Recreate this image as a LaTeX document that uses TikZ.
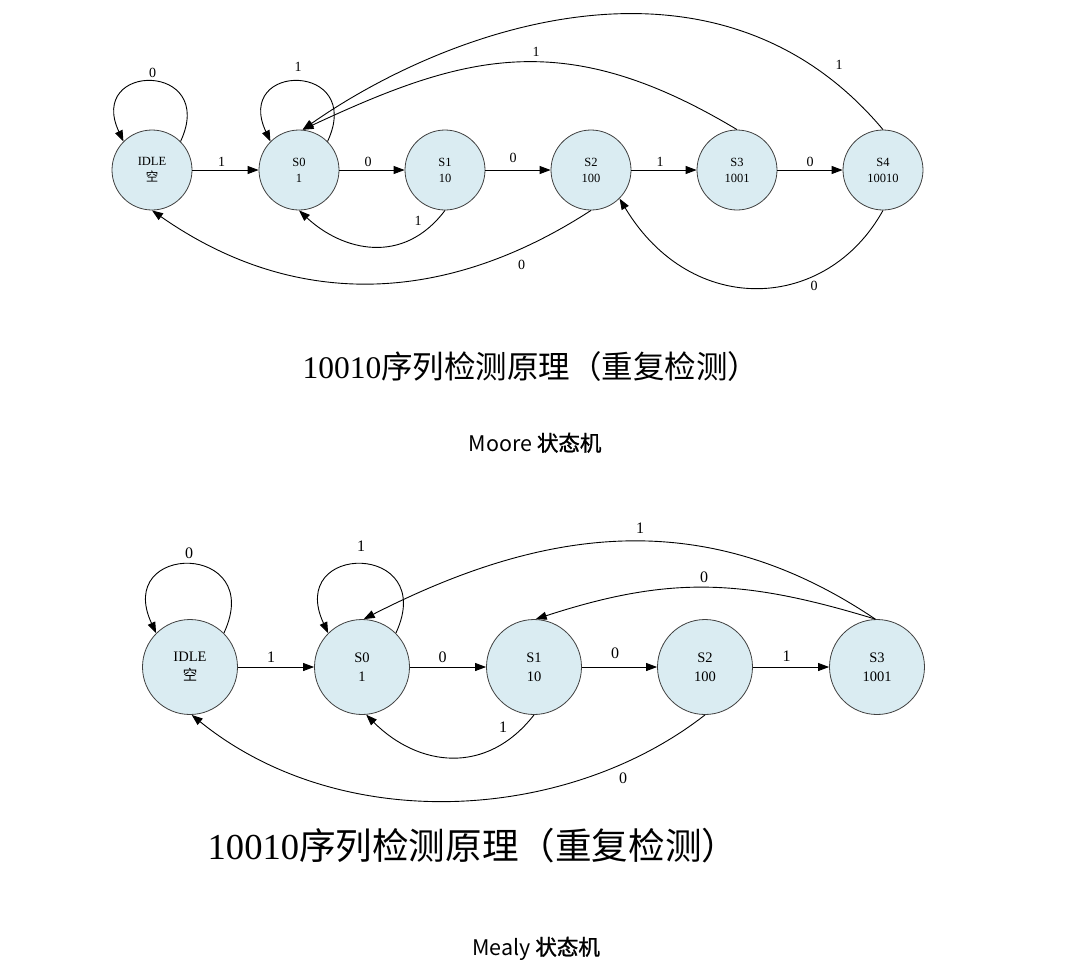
\documentclass[tikz,border=0pt]{standalone}
\usepackage{fontspec}
\setmainfont{Liberation Serif}
\newfontfamily\cjk{Noto Sans CJK SC}
\newfontfamily\cjkb[FakeBold=1.2]{Noto Sans CJK SC}
\usetikzlibrary{arrows.meta}
\definecolor{nodefill}{RGB}{218,236,242}
\definecolor{nodeline}{RGB}{64,64,64}
\begin{document}
\begin{tikzpicture}[x=1pt,y=1pt,
  stA/.style={circle, draw=nodeline, fill=nodefill, line width=0.8pt, minimum size=80pt, inner sep=0pt, align=center, font=\fontsize{12.5}{16}\selectfont},
  stB/.style={stA, minimum size=95pt, font=\fontsize{14.5}{19}\selectfont},
  arr/.style={draw=black, line width=0.9pt, -{Triangle[length=11pt,width=8pt]}},
  lblA/.style={inner sep=0pt, font=\fontsize{14}{15}\selectfont},
  lblB/.style={inner sep=0pt, font=\fontsize{16}{17}\selectfont},
  ttl/.style={inner sep=0pt, anchor=base},
]
\useasboundingbox[fill=white] (0,0) rectangle (1092,-970);

% ---------------- Moore ----------------
\node[stA] (idle) at (152,-170) {IDLE\\{\cjk 空}};
\node[stA] (s0) at (299,-170) {S0\\1};
\node[stA] (s1) at (445,-170) {S1\\10};
\node[stA] (s2) at (591,-170) {S2\\100};
\node[stA] (s3) at (737,-170) {S3\\1001};
\node[stA] (s4) at (883,-170) {S4\\10010};

\draw[arr] (idle.45) .. controls +(65:88) and +(115:88) .. (idle.135);
\draw[arr] (s0.45) .. controls +(65:88) and +(115:88) .. (s0.135);
\draw[arr] (idle) -- (s0);
\draw[arr] (s0) -- (s1);
\draw[arr] (s1) -- (s2);
\draw[arr] (s2) -- (s3);
\draw[arr] (s3) -- (s4);
\draw[arr] (s1.270) .. controls +(233:70) and +(-43:59) .. (s0.270);
\draw[arr] (s2.270) .. controls +(213:176) and +(-35:172) .. (idle.270);
\draw[arr] (s4.270) .. controls +(241:116) and +(-59:140) .. (s2.-45);
\draw[arr] (s3.90) .. controls +(149:201) and +(25:179) .. (s0.85);
\draw[arr] (s4.90) .. controls +(130:259) and +(35:179) .. (s0.85);

\node[lblA] (la1) at (152.7,-73.3) {0};
\node[lblA] (la2) at (298,-67) {1};
\node[lblA] (la3) at (221.7,-161.7) {1};
\node[lblA] (la4) at (368,-161.7) {0};
\node[lblA] (la5) at (513,-158) {0};
\node[lblA] (la6) at (660,-161.7) {1};
\node[lblA] (la7) at (810,-161.7) {0};
\node[lblA] (la8) at (418,-221) {1};
\node[lblA] (la9) at (521.7,-265) {0};
\node[lblA] (la10) at (814,-286) {0};
\node[lblA] (la11) at (536,-52) {1};
\node[lblA] (la12) at (839,-65) {1};

\node[ttl, font=\fontsize{31.5}{36}\selectfont] (t1) at (531,-378) {10010{\cjk 序列检测原理（重复检测）}};
\node[ttl, font=\cjk\fontsize{21.5}{24}\selectfont] (c1) at (535,-451) {Moore {\cjkb 状态机}};

% ---------------- Mealy ----------------
\node[stB] (bidle) at (190,-667) {IDLE\\{\cjk 空}};
\node[stB] (b0) at (362,-667) {S0\\1};
\node[stB] (b1) at (534,-667) {S1\\10};
\node[stB] (b2) at (705,-667) {S2\\100};
\node[stB] (b3) at (877,-667) {S3\\1001};

\draw[arr] (bidle.45) .. controls +(65:101) and +(115:101) .. (bidle.135);
\draw[arr] (b0.45) .. controls +(65:101) and +(115:101) .. (b0.135);
\draw[arr] (bidle) -- (b0);
\draw[arr] (b0) -- (b1);
\draw[arr] (b1) -- (b2);
\draw[arr] (b2) -- (b3);
\draw[arr] (b1.270) .. controls +(232:78) and +(-45:73) .. (b0.-85);
\draw[arr] (b2.270) .. controls +(218:174) and +(-39:193) .. (bidle.-88);
\draw[arr] (b3.92) .. controls +(146:208) and +(27:199) .. (b0.88);
\draw[arr] (b3.92) .. controls +(163:140) and +(18:140) .. (b1.88);

\node[lblB] (lb1) at (189,-553) {0};
\node[lblB] (lb2) at (361,-546) {1};
\node[lblB] (lb3) at (271,-657) {1};
\node[lblB] (lb4) at (442.7,-657) {0};
\node[lblB] (lb5) at (615,-653) {0};
\node[lblB] (lb6) at (786.7,-656.7) {1};
\node[lblB] (lb7) at (503,-727) {1};
\node[lblB] (lb8) at (623,-778) {0};
\node[lblB] (lb9) at (640,-528) {1};
\node[lblB] (lb10) at (704,-577) {0};

\node[ttl, font=\fontsize{36.6}{42}\selectfont] (t2) at (473,-859) {10010{\cjk 序列检测原理（重复检测）}};
\node[ttl, font=\cjk\fontsize{21.5}{24}\selectfont] (c2) at (536,-955) {Mealy {\cjkb 状态机}};
\end{tikzpicture}
\end{document}
